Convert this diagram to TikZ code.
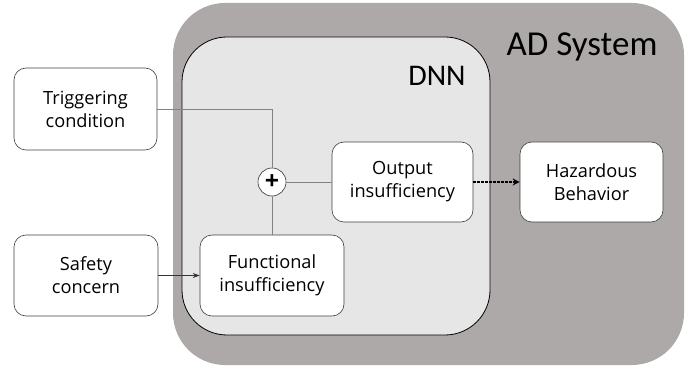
\documentclass[tikz,border=0pt]{standalone}
\usepackage{fontspec}
\setmainfont{Open Sans}
\newfontfamily\titlefont{Carlito}
\usetikzlibrary{arrows.meta}
\definecolor{adgray}{RGB}{173,169,169}
\definecolor{dnngray}{RGB}{230,230,230}
\definecolor{conngray}{RGB}{130,130,130}
\begin{document}
\begin{tikzpicture}[x=1pt,y=-1pt,
  box/.style={draw=black!75, line width=0.6pt, fill=white, rounded corners=12pt,
    align=center, font=\fontsize{18.2}{23}\selectfont, inner sep=0pt},
  conn/.style={draw=conngray, line width=0.8pt},
  title/.style={font=\titlefont, inner sep=0pt}]
\useasboundingbox (0,0) rectangle (688,366);
\fill[adgray, rounded corners=52pt] (173,3) rectangle (684,365);
\draw[fill=dnngray, draw=black, line width=0.8pt, rounded corners=45pt] (182,37) rectangle (490,335);
\node[title, font=\titlefont\fontsize{35}{38}\selectfont] (ad) at (582,47) {AD System};
\node[title, font=\titlefont\fontsize{30}{32}\selectfont] (dnn) at (437,76) {DNN};
\node[box, minimum width=143pt, minimum height=82pt] (trig) at (85.5,109) {Triggering\\condition};
\node[box, minimum width=144pt, minimum height=81pt] (safe) at (86,275.5) {Safety\\concern};
\node[box, minimum width=144pt, minimum height=81pt] (func) at (272,275.5) {Functional\\insufficiency};
\node[box, minimum width=141pt, minimum height=80pt] (out) at (402.5,182) {Output\\insufficiency};
\node[box, minimum width=143pt, minimum height=80pt] (haz) at (591.5,182) {Hazardous\\Behavior};
\node[circle, draw=black!80, line width=0.6pt, fill=white, minimum size=28pt, inner sep=0pt,
  font=\fontsize{25}{25}\selectfont\bfseries] (plus) at (272,182) {+};
\draw[conn] (trig.east) -| (plus.north);
\draw[conn] (func.north) -- (plus.south);
\draw[conn] (plus.east) -- (out.west);
\draw[draw=black!80, line width=0.7pt, -{Stealth[length=7pt,width=5pt]}] (safe.east) -- (func.west);
\draw[black, line width=2.2pt, dash pattern=on 2.2pt off 1.8pt, -{Stealth[length=7pt,width=7pt]}] (out.east) -- (haz.west);
\end{tikzpicture}
\end{document}
